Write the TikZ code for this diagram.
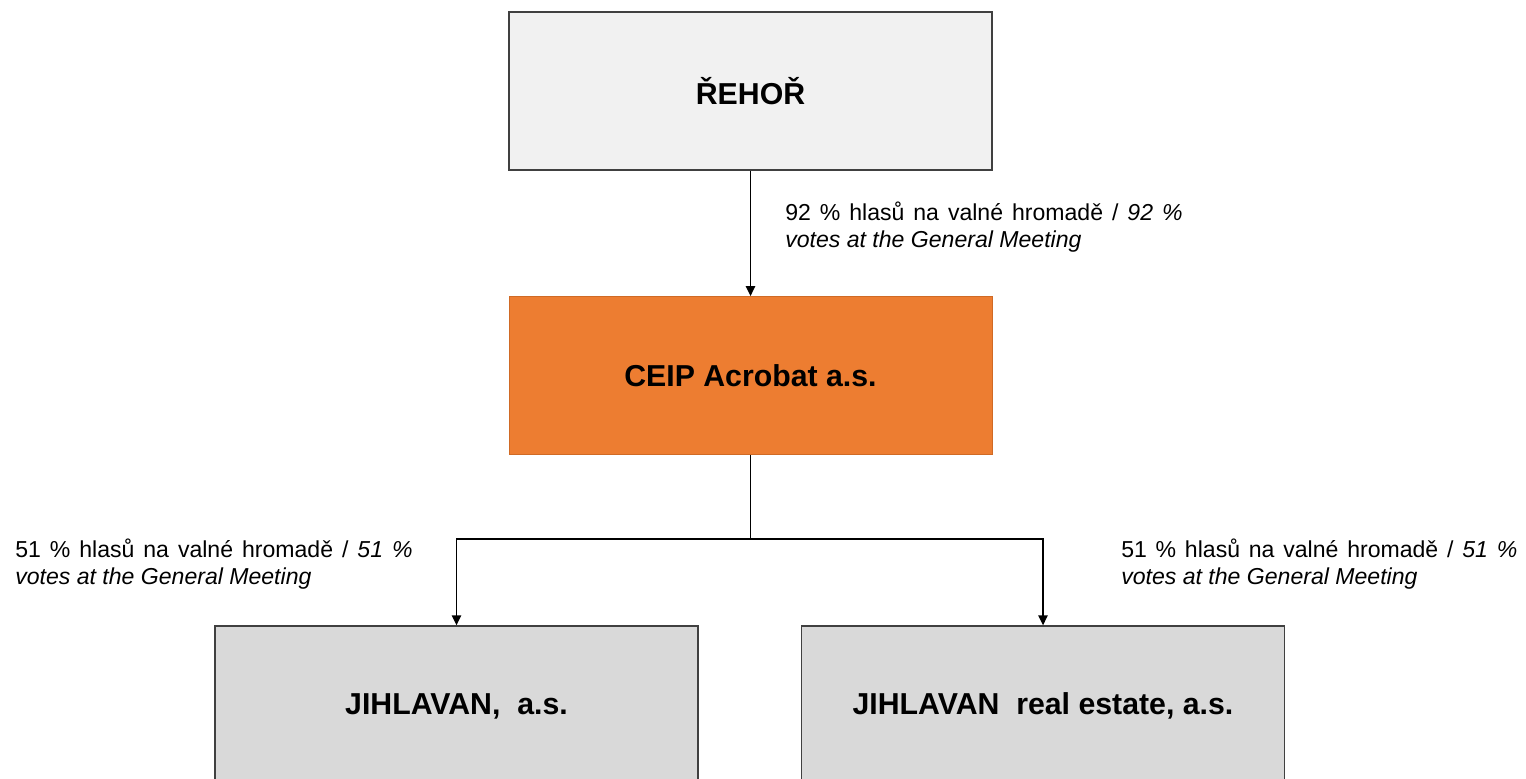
\documentclass[tikz,border=0pt]{standalone}
\usepackage{fontspec}
\setmainfont{Liberation Sans}
\usetikzlibrary{arrows.meta}
\definecolor{orng}{HTML}{ED7D31}
\definecolor{orngline}{HTML}{D06A25}
\definecolor{boxline}{HTML}{404040}
\definecolor{topfill}{HTML}{F1F1F1}
\definecolor{subfill}{HTML}{D9D9D9}
\begin{document}
\begin{tikzpicture}[x=0.75pt,y=-0.75pt,
  boxbase/.style={rectangle, minimum width=362.25pt, minimum height=118.5pt, inner sep=0pt, font=\fontsize{22.7}{27}\selectfont\bfseries},
  topbox/.style={boxbase, draw=boxline, fill=topfill, line width=1pt},
  ceipbox/.style={boxbase, draw=orngline, fill=orng, line width=0.6pt},
  subbox/.style={boxbase, draw=boxline, fill=subfill, line width=1pt, minimum height=120pt},
  conn/.style={line width=1.25pt, draw=black},
  arr/.style={conn, -{Triangle[width=7pt,length=7.5pt]}},
  lbl/.style={align=left, anchor=north west, inner sep=0pt, font=\fontsize{17.3}{20.3}\selectfont}
]
\clip (0,0) rectangle (1526,778);
\fill[white] (0,0) rectangle (1526,778);
\node[topbox] (rehor) at (750.5,91) {ŘEHOŘ};
\node[ceipbox] (ceip) at (750.5,375.5) {CEIP Acrobat a.s.};
\node[subbox] (jl) at (456.5,706) {JIHLAVAN,\ \ a.s.};
\node[subbox] (jre) at (1043,706) {JIHLAVAN\ \ real estate, a.s.};
\coordinate (split) at (750.5,539);
\draw[arr] (rehor.south) -- (ceip.north);
\draw[conn] (ceip.south) -- (split);
\draw[arr] (split) -| (jl.north);
\draw[arr] (split) -| (jre.north);
\node[lbl] (l92) at (785,202) {\makebox[298pt][s]{92 \% hlasů na valné hromadě / \textit{92 \%}}\\\textit{votes at the General Meeting}};
\node[lbl] (l51a) at (15,539) {\makebox[298pt][s]{51 \% hlasů na valné hromadě / \textit{51 \%}}\\\textit{votes at the General Meeting}};
\node[lbl] (l51b) at (1121,539) {\makebox[297pt][s]{51 \% hlasů na valné hromadě / \textit{51 \%}}\\\textit{votes at the General Meeting}};
\end{tikzpicture}
\end{document}
